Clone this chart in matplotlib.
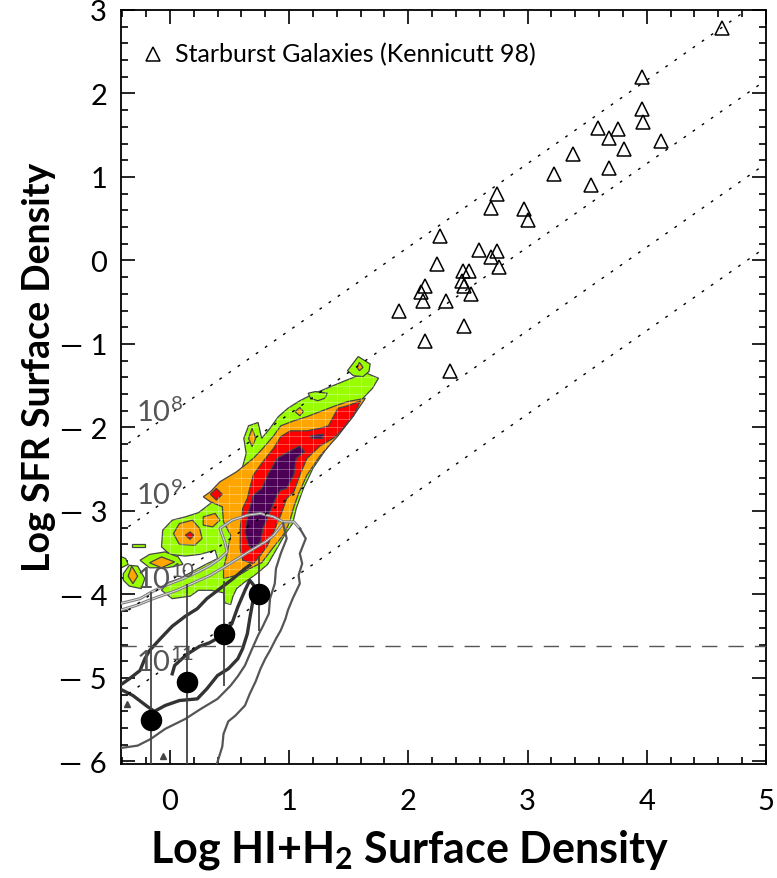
import numpy as np
import matplotlib.pyplot as plt
from matplotlib.patches import Polygon

plt.rcParams['font.family'] = ['Lato', 'DejaVu Sans']
plt.rcParams['mathtext.fontset'] = 'custom'
plt.rcParams['mathtext.rm'] = 'Lato'
plt.rcParams['mathtext.bf'] = 'Lato:bold'

# starburst galaxies (Kennicutt 98)
sb_gas = [4.63, 3.96, 3.96, 3.97, 3.59, 3.76, 3.68, 4.12, 3.81, 3.38, 3.68, 3.22,
          3.53, 2.74, 2.69, 2.97, 3.00, 2.27, 2.59, 2.74, 2.69, 2.76, 2.24, 2.46,
          2.51, 2.14, 2.11, 2.47, 2.45, 2.53, 2.12, 2.32, 1.92, 2.47, 2.14, 2.35]
sb_sfr = [2.79, 2.20, 1.81, 1.66, 1.59, 1.57, 1.47, 1.43, 1.33, 1.28, 1.11, 1.04,
          0.90, 0.80, 0.63, 0.62, 0.48, 0.29, 0.12, 0.11, 0.04, -0.08, -0.04, -0.13,
          -0.12, -0.30, -0.38, -0.30, -0.24, -0.40, -0.49, -0.48, -0.61, -0.78, -0.96, -1.32]

# binned means with range bars
bin_gas = [-0.16, 0.14, 0.45, 0.75]
bin_sfr = [-5.50, -5.05, -4.47, -4.00]
bin_top = [-3.97, -3.87, -3.84, -3.54]
bin_bot = [-6.10, -6.10, -5.10, -4.44]

# few faint points
faint_gas = [-0.36, -0.06]
faint_sfr = [-5.31, -5.93]

# constant depletion time lines
tdep_offset = [-1.84, -2.84, -3.84, -4.84]
tdep_label = ['10$^{8}$', '10$^{9}$', '10$^{10}$', '10$^{11}$']
sfr_limit = -4.62

# pixel-by-pixel density contours (levels 1..4)
lime_main = [(1.75, -1.41), (1.70, -1.53), (1.62, -1.65), (1.52, -1.89), (1.41, -2.07), (1.30, -2.28),
             (1.20, -2.49), (1.12, -2.73), (1.06, -2.97), (1.03, -3.15), (0.97, -3.27), (0.89, -3.47),
             (0.82, -3.64), (0.72, -3.76), (0.62, -3.86), (0.56, -3.93), (0.53, -4.02), (0.51, -4.12),
             (0.46, -4.10), (0.45, -3.98), (0.35, -3.95), (0.24, -3.95), (0.17, -4.02), (0.02, -4.05),
             (-0.07, -3.95), (-0.02, -3.86), (0.08, -3.81), (0.21, -3.71), (0.30, -3.64), (0.40, -3.57),
             (0.38, -3.47), (0.25, -3.52), (0.13, -3.54), (0.00, -3.52), (-0.07, -3.43), (-0.06, -3.23),
             (0.02, -3.11), (0.13, -3.07), (0.24, -3.02), (0.34, -2.91), (0.44, -2.79), (0.52, -2.65),
             (0.61, -2.47), (0.64, -2.31), (0.62, -2.13), (0.66, -1.98), (0.74, -1.94), (0.77, -2.13),
             (0.84, -2.01), (0.91, -1.87), (0.99, -1.77), (1.09, -1.68), (1.20, -1.60), (1.35, -1.51),
             (1.47, -1.44), (1.56, -1.39), (1.65, -1.35)]
lime_islands = [
    [(-0.25, -3.59), (-0.17, -3.52), (-0.04, -3.49), (0.07, -3.55), (0.11, -3.64), (-0.02, -3.68), (-0.17, -3.68)],
    [(-0.39, -3.75), (-0.34, -3.65), (-0.27, -3.66), (-0.21, -3.81), (-0.24, -3.93), (-0.34, -3.90), (-0.39, -3.83)],
    [(-0.42, -3.54), (-0.37, -3.57), (-0.35, -3.64), (-0.42, -3.69)],
    [(-0.32, -3.39), (-0.21, -3.39), (-0.21, -3.43), (-0.32, -3.43)],
    [(1.49, -1.32), (1.58, -1.15), (1.68, -1.24), (1.67, -1.33), (1.62, -1.39), (1.54, -1.38)],
    [(1.16, -1.59), (1.22, -1.57), (1.32, -1.59), (1.30, -1.65), (1.24, -1.68), (1.18, -1.65)],
]
orange_main = [(1.64, -1.65), (1.49, -1.69), (1.37, -1.75), (1.26, -1.81), (1.15, -1.87), (1.04, -1.92),
               (0.93, -1.98), (0.87, -2.10), (0.78, -2.25), (0.70, -2.37), (0.56, -2.53), (0.42, -2.65),
               (0.34, -2.77), (0.28, -2.83), (0.34, -2.89), (0.44, -2.95), (0.45, -3.13), (0.51, -3.29),
               (0.48, -3.51), (0.45, -3.69), (0.45, -3.81), (0.59, -3.76), (0.67, -3.69), (0.77, -3.62),
               (0.86, -3.45), (0.95, -3.29), (1.00, -3.15), (1.04, -2.95), (1.08, -2.79), (1.15, -2.57),
               (1.26, -2.34), (1.41, -2.10), (1.54, -1.86)]
orange_islands = [
    [(0.03, -3.27), (0.08, -3.15), (0.19, -3.11), (0.25, -3.21), (0.27, -3.33), (0.21, -3.41), (0.08, -3.40)],
    [(0.28, -3.07), (0.38, -3.03), (0.42, -3.11), (0.36, -3.19), (0.28, -3.17)],
    [(-0.17, -3.62), (-0.07, -3.55), (0.04, -3.61), (-0.07, -3.68)],
    [(-0.35, -3.78), (-0.32, -3.66), (-0.27, -3.78), (-0.31, -3.87)],
    [(0.66, -2.13), (0.69, -2.01), (0.72, -2.13), (0.69, -2.23)],
    [(1.05, -1.81), (1.09, -1.76), (1.12, -1.81), (1.09, -1.86)],
    [(1.57, -1.28), (1.59, -1.22), (1.62, -1.28), (1.59, -1.32)],
]
red_main = [(1.60, -1.68), (1.49, -1.74), (1.41, -1.77), (1.33, -1.98), (1.26, -2.01), (1.15, -2.04),
            (1.01, -2.04), (0.93, -2.11), (0.87, -2.25), (0.78, -2.41), (0.70, -2.57), (0.67, -2.73),
            (0.65, -2.85), (0.61, -2.97), (0.59, -3.21), (0.59, -3.45), (0.61, -3.59), (0.70, -3.63),
            (0.76, -3.53), (0.82, -3.41), (0.87, -3.25), (0.93, -3.05), (0.98, -2.85), (1.04, -2.77),
            (1.09, -2.57), (1.15, -2.37), (1.26, -2.22), (1.37, -2.13), (1.43, -2.05), (1.54, -1.86)]
red_islands = [
    [(0.34, -2.80), (0.39, -2.73), (0.44, -2.80), (0.39, -2.87)],
    [(0.13, -3.29), (0.17, -3.25), (0.20, -3.29), (0.17, -3.34)],
]
purple_main = [(1.09, -2.22), (1.13, -2.29), (1.06, -2.37), (1.04, -2.57), (0.98, -2.73), (0.93, -2.75),
               (0.90, -2.81), (0.84, -3.01), (0.78, -3.21), (0.76, -3.37), (0.70, -3.47), (0.66, -3.41),
               (0.63, -3.25), (0.66, -3.01), (0.70, -2.81), (0.77, -2.73), (0.82, -2.57), (0.90, -2.37),
               (1.01, -2.28)]
purple_islands = [
    [(1.18, -2.10), (1.29, -2.08), (1.28, -2.13), (1.19, -2.13)],
]

# outer-disk contours (gray lines)
light_1 = [(-0.42, -4.11), (-0.25, -4.05), (-0.14, -3.96), (0.00, -3.87), (0.11, -3.81), (0.25, -3.72),
           (0.34, -3.65), (0.42, -3.57), (0.48, -3.49), (0.46, -3.37), (0.42, -3.21), (0.52, -3.11),
           (0.65, -3.05), (0.76, -3.03), (0.87, -3.07), (0.95, -3.13), (1.04, -3.13), (1.09, -3.21)]
light_2 = [(-0.42, -4.19), (-0.28, -4.13), (-0.14, -4.05), (0.06, -3.95), (0.23, -3.84), (0.34, -3.77),
           (0.48, -3.65), (0.67, -3.48), (0.80, -3.37), (0.87, -3.29), (0.95, -3.15)]
mid_1 = [(1.09, -3.21), (1.14, -3.33), (1.09, -3.51), (1.11, -3.63), (1.08, -3.77), (1.09, -3.87),
         (1.03, -4.05), (0.99, -4.19), (0.97, -4.29), (0.93, -4.43), (0.89, -4.53), (0.84, -4.67),
         (0.80, -4.77), (0.76, -4.89), (0.72, -5.04), (0.67, -5.19), (0.63, -5.33), (0.55, -5.45),
         (0.49, -5.52), (0.45, -5.67), (0.44, -5.82), (0.39, -6.05)]
mid_2 = [(0.95, -3.15), (0.98, -3.33), (0.93, -3.51), (0.89, -3.69), (0.88, -3.87), (0.84, -4.05),
         (0.83, -4.23), (0.78, -4.38), (0.74, -4.49), (0.69, -4.65), (0.63, -4.85), (0.57, -4.98),
         (0.51, -5.09), (0.40, -5.25), (0.26, -5.37), (0.13, -5.49), (-0.04, -5.61), (-0.16, -5.73),
         (-0.27, -5.81), (-0.42, -5.84)]
dark_1 = [(-0.42, -5.09), (-0.34, -5.01), (-0.25, -4.91), (-0.21, -4.77), (-0.17, -4.67), (-0.08, -4.53),
          (0.02, -4.38), (0.13, -4.26), (0.23, -4.17), (0.31, -4.05), (0.42, -3.93), (0.53, -3.81),
          (0.63, -3.69), (0.67, -3.65)]
dark_2 = [(-0.42, -5.13), (-0.31, -5.21), (-0.19, -5.34), (-0.13, -5.40), (-0.04, -5.33), (0.08, -5.27),
          (0.23, -5.25), (0.31, -5.13), (0.40, -4.97), (0.49, -4.89), (0.57, -4.77), (0.61, -4.65),
          (0.65, -4.47), (0.67, -4.29), (0.70, -4.05), (0.71, -3.90), (0.67, -3.83), (0.63, -3.95),
          (0.57, -4.15), (0.52, -4.35), (0.43, -4.50), (0.33, -4.58), (0.25, -4.62), (0.14, -4.72),
          (0.04, -4.85), (0.02, -4.95)]

x_ticks = [0, 1, 2, 3, 4, 5]
x_tick_labels = ['0', '1', '2', '3', '4', '5']
y_ticks = [-6, -5, -4, -3, -2, -1, 0, 1, 2, 3]
y_tick_labels = ['— 6', '— 5', '— 4', '— 3', '— 2', '— 1', '0', '1', '2', '3']

fig = plt.figure(figsize=(7.77, 8.79), dpi=100)
ax = fig.add_axes([0.1557, 0.1297, 0.8301, 0.8578])
ax.set_xlim(-0.41, 5.0)
ax.set_ylim(-6.03, 3.0)

# colored contours
levels = [('#99ff00', lime_main, lime_islands),
          ('#ffa500', orange_main, orange_islands),
          ('#ff0000', red_main, red_islands),
          ('#4b0055', purple_main, purple_islands)]
main_patch = None
for col, main, isl in levels:
    for poly in [main] + isl:
        p = Polygon(poly, closed=True, facecolor=col, edgecolor='#444444', lw=0.9, zorder=2)
        ax.add_patch(p)
        if main_patch is None:
            main_patch = p

# faint pixel grid seen through the colored area
for gx in np.arange(-0.4, 1.8, 0.1):
    ln, = ax.plot([gx, gx], [-4.2, -1.1], color='white', lw=0.6, alpha=0.35, zorder=3)
    ln.set_clip_path(main_patch)
for gy in np.arange(-4.2, -1.0, 0.1):
    ln, = ax.plot([-0.45, 1.8], [gy, gy], color='white', lw=0.6, alpha=0.35, zorder=3)
    ln.set_clip_path(main_patch)

# gray contours of outer disks
for line in [light_1, light_2]:
    xs, ys = zip(*line)
    ax.plot(xs, ys, color='#808080', lw=2.2, zorder=4)
    ax.plot(xs, ys, color='#e8e8e8', lw=0.6, zorder=4)
for line in [mid_1, mid_2]:
    xs, ys = zip(*line)
    ax.plot(xs, ys, color='#555555', lw=1.6, zorder=4)
for line in [dark_1, dark_2]:
    xs, ys = zip(*line)
    ax.plot(xs, ys, color='#333333', lw=2.4, zorder=4)

# depletion time lines
xx = np.array([-0.5, 5.2])
for off, lab in zip(tdep_offset, tdep_label):
    ax.plot(xx, xx + off, color='black', lw=1.0, ls=(0, (2, 6)), zorder=5)
    ax.text(-0.28, off - 0.08, lab, fontsize=21, color='#555555',
            va='baseline', ha='left', zorder=6)

ax.axhline(sfr_limit, color='#555555', lw=1.0, ls=(0, (11, 8)), zorder=5)

# binned points
ax.vlines(bin_gas, bin_bot, bin_top, color='#444444', lw=1.3, zorder=6)
ax.plot(bin_gas, bin_sfr, 'o', color='black', ms=14.5, zorder=7)
ax.plot(faint_gas, faint_sfr, '^', color='#444444', ms=4, zorder=6)

# starbursts
ax.plot(sb_gas, sb_sfr, '^', mfc='none', mec='black', mew=1.1, ms=10.5, zorder=7)
ax.plot([0.05], [0.942], '^', mfc='none', mec='black', mew=1.1, ms=10.5, transform=ax.transAxes)
ax.text(0.083, 0.942, 'Starburst Galaxies (Kennicutt 98)', transform=ax.transAxes,
        fontsize=18, va='center', ha='left')

ax.set_xticks(x_ticks)
ax.set_xticklabels(x_tick_labels, fontsize=21)
ax.set_yticks(y_ticks)
ax.set_yticklabels(y_tick_labels, fontsize=21)
ax.set_xticks(np.arange(-0.4, 5.01, 0.2), minor=True)
ax.set_yticks(np.arange(-6.0, 3.01, 0.2), minor=True)
ax.tick_params(which='both', direction='in', top=True, right=True, width=1.2, color='black')
ax.tick_params(which='major', length=10)
ax.tick_params(which='minor', length=5)
ax.tick_params(axis='x', which='major', pad=17)
ax.tick_params(axis='y', which='major', pad=10)
for s in ax.spines.values():
    s.set_linewidth(1.3)

ax.set_xlabel(r'Log HI+H$_\mathbf{2}$ Surface Density', fontsize=31, fontweight='bold')
ax.set_ylabel('Log SFR Surface Density', fontsize=27, fontweight='bold')
ax.xaxis.set_label_coords(0.448, -0.083)
ax.yaxis.set_label_coords(-0.10, 0.528)

plt.savefig('out.png', dpi=100)
